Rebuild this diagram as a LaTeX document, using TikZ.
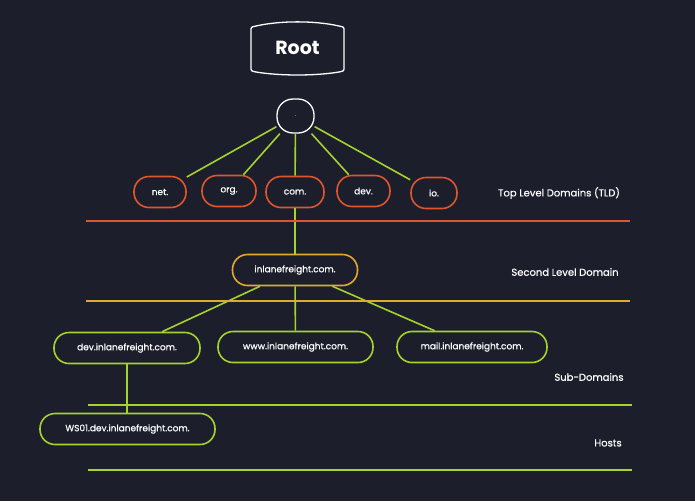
\documentclass[tikz,border=0pt]{standalone}
\usepackage{fontspec}
\setmainfont{Poppins}
\newfontfamily\medfont{Poppins}[FakeBold=0.6]
\usetikzlibrary{positioning}

\definecolor{bgdark}{HTML}{1C1F2B}
\definecolor{tldorange}{HTML}{E0552B}
\definecolor{sldyellow}{HTML}{E3A92E}
\definecolor{subgreen}{HTML}{A5D22E}

\tikzset{
  pill/.style={draw, line width=1.6pt, rounded corners=15pt, minimum height=31pt,
    inner sep=0pt, text=white, font=\medfont\fontsize{9}{11}\selectfont},
  tld/.style={pill, draw=tldorange},
  sld/.style={pill, draw=sldyellow},
  sub/.style={pill, draw=subgreen},
  level/.style={text=white, font=\medfont\fontsize{10}{12}\selectfont},
  link/.style={draw=subgreen, line width=1.6pt},
}

\begin{document}
\begin{tikzpicture}[x=1pt, y=-1pt]
\fill[bgdark] (0,0) rectangle (695,501);
\useasboundingbox (0,0) rectangle (695,501);

% root
\node[text=white, font=\fontsize{19}{22}\selectfont\bfseries] (root) at (297.5,48) {Root};
\draw[white, line width=1.3pt]
    (251,31) -- (251,67) .. controls (251,71) .. (256,72)
    .. controls (280,76) and (315,76) .. (339,72)
    .. controls (344,71) .. (344,67) -- (344,31)
    .. controls (344,27) .. (339,26)
    .. controls (315,20.5) and (280,20.5) .. (256,26)
    .. controls (251,27) .. (251,31);
\node[draw=white, line width=1.3pt, rounded corners=16pt, minimum width=37pt,
    minimum height=34pt, text=gray, font=\small] (dot) at (295.5,116) {.};

% top level domains
\node[tld, minimum width=52pt] (net) at (160,192) {net.};
\node[tld, minimum width=54pt] (org) at (229,191) {org.};
\node[tld, minimum width=58pt] (com) at (295,192) {com.};
\node[tld, minimum width=53pt] (dev) at (363.5,191) {dev.};
\node[tld, minimum width=46pt] (io) at (434,193) {io.};

% second level and below
\node[sld, minimum width=125pt] (inlane) at (295,270) {inlanefreight.com.};
\node[sub, minimum width=146pt] (devsub) at (127,348) {dev.inlanefreight.com.};
\node[sub, minimum width=155pt] (www) at (295.5,347) {www.inlanefreight.com.};
\node[sub, minimum width=150pt] (mail) at (472,347) {mail.inlanefreight.com.};
\node[sub, minimum width=175pt] (ws) at (127.5,429) {WS01.dev.inlanefreight.com.};

\draw[link]
    (dot) edge (net) (dot) edge (org) (dot) edge (com)
    (dot) edge (dev) (dot) edge (io)
    (com) edge (inlane)
    (inlane) edge (devsub) (inlane) edge (www) (inlane) edge (mail)
    (devsub.south) edge (ws.north -| devsub.south);

% levels
\node[level] (tldlbl) at (559,193) {Top Level Domains (TLD)};
\node[level] (sldlbl) at (565,272) {Second Level Domain};
\node[level] (sublbl) at (589,377) {Sub-Domains};
\node[level] (hostlbl) at (608,443) {Hosts};

\draw[tldorange, line width=1.6pt] (86,221) -- (630,221);
\draw[sldyellow, line width=1.6pt] (86,301) -- (630,301);
\draw[subgreen, line width=1.6pt] (88,405) -- (632,405);
\draw[subgreen, line width=1.6pt] (88,470) -- (632,470);
\end{tikzpicture}
\end{document}
